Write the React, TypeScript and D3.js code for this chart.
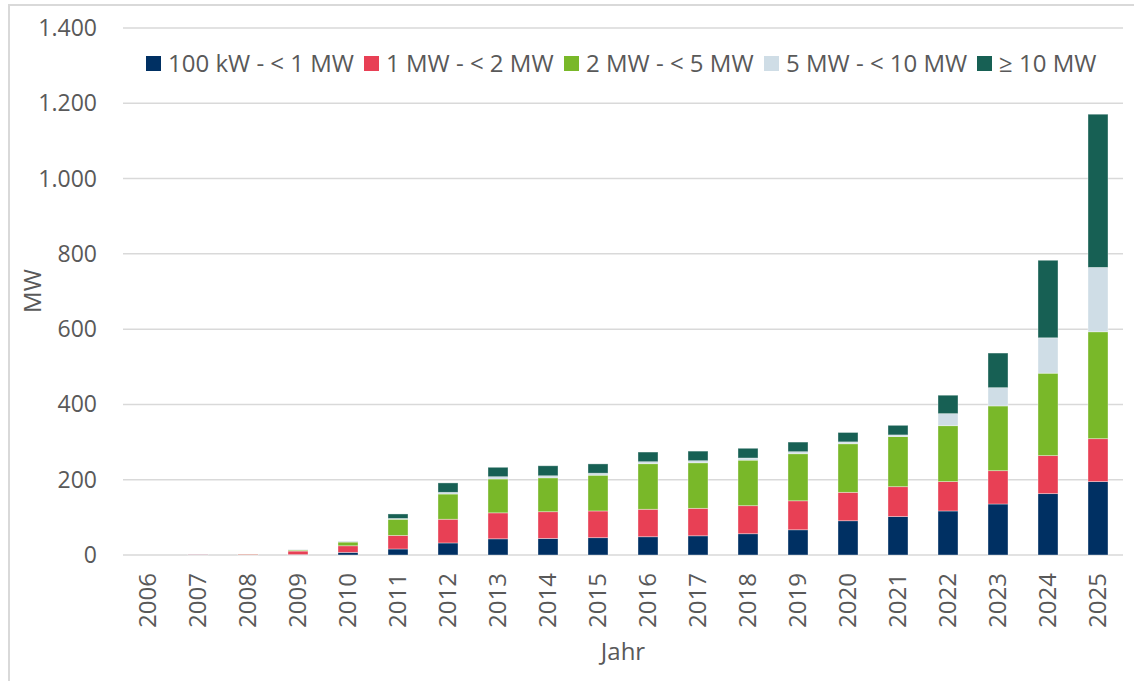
import { useMemo } from 'react'
import * as d3 from 'd3'

const years = ['2006', '2007', '2008', '2009', '2010', '2011', '2012', '2013', '2014', '2015',
  '2016', '2017', '2018', '2019', '2020', '2021', '2022', '2023', '2024', '2025']

const seriesNames = ['100 kW - < 1 MW', '1 MW - < 2 MW', '2 MW - < 5 MW', '5 MW - < 10 MW', '≥ 10 MW']
const seriesColors = ['#003063', '#e84055', '#79b829', '#cfdde6', '#176054']

const small = [0, 0.6, 0.3, 1, 7, 16, 32, 43, 44, 46, 48.5, 51, 56.5, 67, 91, 102, 117, 135.5, 163, 195]
const mid = [0, 0.6, 2, 9.5, 17.5, 36, 63, 69, 71, 71, 73, 73, 74.5, 77, 75.5, 79.5, 78, 88.5, 101, 114]
const large = [0, 0, 0.3, 2.7, 10, 43, 67, 90, 90, 95, 121, 121, 121, 125, 129, 133, 148.5, 172, 219, 284]
const xl = [0, 0, 0, 0.3, 0.5, 2, 4.5, 6, 5.5, 5.3, 5.3, 5.5, 5.7, 5.4, 5, 4.5, 32, 48.5, 94, 171]
const huge = [0, 0, 0, 0.2, 0.5, 12, 25, 25, 26.5, 24.7, 25.7, 25.5, 25.8, 25.6, 25, 25.5, 49, 92, 206, 407]

const yTicks = [0, 200, 400, 600, 800, 1000, 1200, 1400]

const W = 1134
const H = 681
const margin = { top: 28, right: 11, bottom: 126, left: 123 }
const FONT = '"Open Sans", sans-serif'
const TEXT = '#595959'

const deFormat = d3.formatLocale({ decimal: ',', thousands: '.', grouping: [3], currency: ['', '€'] }).format(',d')

export default function App() {
  const innerW = W - margin.left - margin.right
  const innerH = H - margin.top - margin.bottom

  const rows = useMemo(() => years.map((y, i) => ({
    year: y, s0: small[i], s1: mid[i], s2: large[i], s3: xl[i], s4: huge[i],
  })), [])

  const stacked = d3.stack<any>().keys(['s0', 's1', 's2', 's3', 's4'])(rows)

  const x = d3.scaleBand().domain(years).range([0, innerW]).paddingInner(0.6).paddingOuter(0.3)
  const y = d3.scaleLinear().domain([0, 1400]).range([innerH, 0])

  const legendX = [146, 364, 564, 764, 977]

  return (
    <svg width={W} height={H} style={{ position: 'absolute', left: 0, top: 0, background: '#fff' }} fontFamily={FONT}>
      {/* outer frame */}
      <line x1={8} x2={W} y1={5} y2={5} stroke="#d9d9d9" strokeWidth={2} />
      <line x1={9} x2={9} y1={4} y2={H} stroke="#d9d9d9" strokeWidth={2} />

      <g transform={`translate(${margin.left},${margin.top})`}>
        {yTicks.map((t) => (
          <g key={t}>
            <line x1={0} x2={innerW} y1={y(t)} y2={y(t)} stroke="#d9d9d9" strokeWidth={1.5} />
            <text x={-26} y={y(t)} dy="0.35em" textAnchor="end" fontSize={23} fill={TEXT}>{deFormat(t)}</text>
          </g>
        ))}

        {stacked.map((layer, si) => (
          <g key={layer.key} fill={seriesColors[si]}>
            {layer.map((d, i) => {
              const h = y(d[0]) - y(d[1])
              if (h <= 0) return null
              return (
                <rect key={i} x={x(years[i])} y={y(d[1])} width={x.bandwidth()} height={h}
                  stroke="#ffffff" strokeOpacity={0.45} strokeWidth={0.8} />
              )
            })}
          </g>
        ))}

        {years.map((yr) => (
          <text key={yr} transform={`translate(${(x(yr) ?? 0) + x.bandwidth() / 2},${innerH + 18}) rotate(-90)`}
            textAnchor="end" dy="0.35em" fontSize={24} fill={TEXT}>{yr}</text>
        ))}

        <text x={innerW / 2} y={innerH + 105} textAnchor="middle" fontSize={24} fill={TEXT}>Jahr</text>
      </g>

      <text transform={`translate(41,291) rotate(-90)`} textAnchor="middle" fontSize={24} fill={TEXT}>MW</text>

      {seriesNames.map((name, i) => (
        <g key={name} transform={`translate(${legendX[i]},63.5)`}>
          <rect x={0} y={-7.5} width={15} height={15} fill={seriesColors[i]} />
          <text x={22} y={0} dy="0.35em" fontSize={24} fill={TEXT}>{name}</text>
        </g>
      ))}
    </svg>
  )
}
